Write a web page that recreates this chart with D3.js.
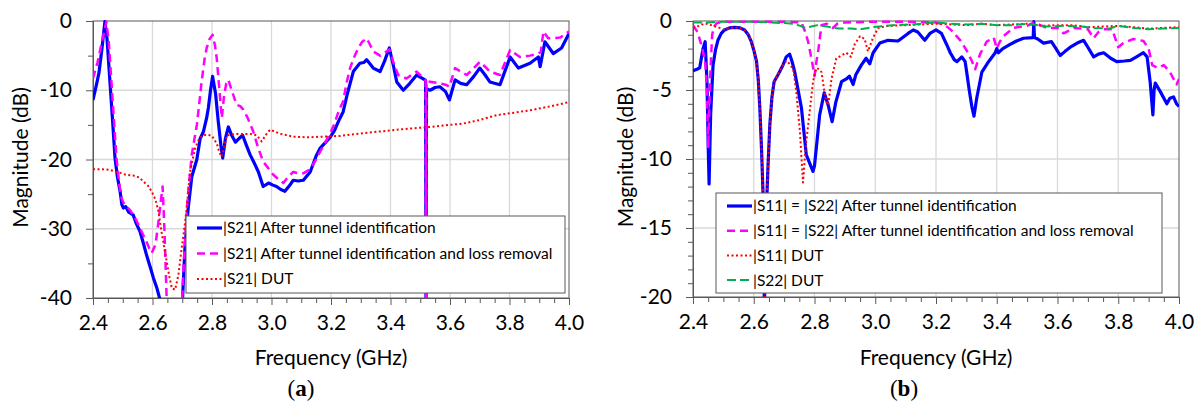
<!DOCTYPE html>
<html lang="en">
<head>
<meta charset="UTF-8">
<title>Magnitude vs Frequency</title>
<script src="https://d3js.org/d3.v7.min.js"></script>
<style>
  body { margin: 0; background: #fff; }
  svg text { font-family: Lato, "Open Sans", sans-serif; fill: #000; }
</style>
</head>
<body>
<script>
// ---- data (frequency GHz, magnitude dB) ----
const freqTicks = [2.4, 2.6, 2.8, 3.0, 3.2, 3.4, 3.6, 3.8, 4.0];

// (a) |S21|
const s21Tunnel = [[2.400,-11.4],[2.410,-9.5],[2.420,-7.5],[2.430,-4],[2.440,-0.1],[2.447,-2.5],[2.457,-8.8],[2.466,-14.5],[2.474,-19.8],[2.482,-22.5],[2.491,-24.6],[2.497,-26.5],[2.502,-27.0],[2.510,-26.8],[2.520,-27.6],[2.535,-28.0],[2.546,-29.3],[2.558,-30.4],[2.570,-32.2],[2.580,-33.8],[2.592,-35.5],[2.603,-37.1],[2.615,-38.6],[2.625,-40.2],[2.640,-43],[2.680,-43],[2.700,-41],[2.709,-32.8],[2.720,-27],[2.732,-22.5],[2.749,-20],[2.760,-17],[2.771,-16],[2.782,-14],[2.788,-12.5],[2.795,-10],[2.802,-8.0],[2.812,-10.5],[2.821,-14.5],[2.830,-18],[2.836,-19.8],[2.845,-17],[2.855,-15.3],[2.866,-16.5],[2.879,-17.5],[2.890,-17],[2.903,-16.5],[2.916,-18],[2.928,-19.3],[2.942,-20.5],[2.956,-21.8],[2.972,-23.9],[2.990,-23.4],[3.005,-23.7],[3.017,-23.9],[3.030,-24.3],[3.045,-24.6],[3.060,-23.8],[3.073,-23.0],[3.090,-23.1],[3.107,-23.0],[3.130,-21.8],[3.150,-19.5],[3.163,-18.4],[3.180,-17.6],[3.197,-16.8],[3.212,-15.8],[3.225,-14.5],[3.241,-13.1],[3.255,-10.5],[3.275,-7.3],[3.297,-6.1],[3.310,-6.0],[3.320,-5.6],[3.342,-6.8],[3.365,-7.3],[3.380,-5.8],[3.396,-3.9],[3.410,-6.5],[3.421,-8.8],[3.443,-10.0],[3.465,-9.0],[3.488,-7.8],[3.516,-8.5],[3.518,-8.6],[3.5195,-45],[3.521,-9.8],[3.533,-10.0],[3.550,-9.6],[3.566,-9.5],[3.585,-10.2],[3.598,-11.4],[3.617,-8.5],[3.636,-9.0],[3.656,-9.2],[3.680,-8.0],[3.700,-6.8],[3.718,-7.8],[3.734,-8.8],[3.768,-9.2],[3.785,-7.2],[3.802,-5.2],[3.830,-6.8],[3.869,-6.1],[3.897,-5.2],[3.903,-6.6],[3.919,-3.0],[3.947,-4.7],[3.975,-3.9],[4.000,-1.8]];

const s21Loss = [[2.400,-8.3],[2.415,-6],[2.430,-3],[2.445,-0.1],[2.453,-3],[2.462,-8.8],[2.470,-14],[2.479,-19.8],[2.488,-23.5],[2.496,-25.6],[2.505,-26.5],[2.513,-26.8],[2.525,-27.3],[2.535,-28.0],[2.546,-28.8],[2.558,-29.9],[2.570,-31],[2.580,-31.9],[2.590,-32.9],[2.597,-33.5],[2.610,-32.3],[2.620,-29.0],[2.628,-26],[2.634,-23.9],[2.640,-30],[2.648,-40.5],[2.655,-45],[2.695,-45],[2.702,-38],[2.706,-34.2],[2.717,-26.1],[2.732,-19.3],[2.749,-15.0],[2.757,-12],[2.765,-8.8],[2.775,-5.5],[2.782,-3.9],[2.792,-2.6],[2.802,-2.0],[2.810,-3.5],[2.816,-5.4],[2.825,-10],[2.833,-14.0],[2.840,-11],[2.848,-9],[2.855,-8.5],[2.870,-10.5],[2.883,-12.1],[2.895,-12.3],[2.905,-12.8],[2.920,-14],[2.939,-16.0],[2.955,-18.3],[2.972,-20.3],[2.990,-21.3],[3.006,-22.2],[3.022,-22.8],[3.040,-23.4],[3.056,-22.5],[3.073,-21.8],[3.090,-22.0],[3.107,-22.0],[3.130,-21.4],[3.147,-20.2],[3.163,-18.9],[3.180,-17.6],[3.197,-16.2],[3.212,-14.8],[3.225,-13.1],[3.241,-11.6],[3.252,-9],[3.264,-6.8],[3.280,-5],[3.292,-3.9],[3.305,-3],[3.320,-2.5],[3.332,-3.5],[3.342,-4.4],[3.365,-5.0],[3.380,-4.6],[3.396,-4.1],[3.410,-6],[3.426,-7.8],[3.454,-8.3],[3.470,-7.8],[3.488,-7.3],[3.516,-8.5],[3.518,-8.6],[3.5195,-45],[3.521,-8.7],[3.538,-8.8],[3.566,-9.0],[3.585,-9.2],[3.598,-9.5],[3.617,-6.8],[3.636,-7.3],[3.656,-7.8],[3.680,-6.8],[3.700,-5.9],[3.718,-6.6],[3.734,-7.3],[3.768,-7.8],[3.785,-6],[3.802,-4.2],[3.835,-5.2],[3.869,-5.0],[3.897,-4.7],[3.905,-4.5],[3.914,-1.5],[3.930,-2.5],[3.970,-2.4],[4.000,-1.5]];

const s21Dut = [[2.400,-21.4],[2.430,-21.4],[2.457,-21.5],[2.490,-21.9],[2.510,-22.2],[2.535,-22.3],[2.555,-22.6],[2.570,-23.2],[2.585,-23.8],[2.597,-24.6],[2.610,-25.8],[2.620,-27.5],[2.630,-30.4],[2.640,-32.8],[2.648,-34.8],[2.657,-37],[2.665,-38.6],[2.676,-38.8],[2.687,-36.7],[2.698,-32.8],[2.707,-30],[2.715,-27.0],[2.726,-21.8],[2.743,-18.4],[2.757,-17],[2.771,-16.5],[2.785,-16.4],[2.800,-16.6],[2.816,-17.7],[2.825,-19],[2.833,-19.6],[2.842,-18],[2.850,-16.5],[2.883,-16.3],[2.928,-16.3],[2.950,-16.5],[2.967,-17.4],[2.980,-16.5],[2.995,-15.7],[3.030,-16.3],[3.073,-16.7],[3.120,-16.8],[3.170,-16.7],[3.230,-16.6],[3.310,-16.2],[3.421,-15.7],[3.533,-15.3],[3.645,-14.8],[3.700,-14.3],[3.757,-13.6],[3.869,-12.9],[3.940,-12.3],[4.000,-11.7]];

// (b) |S11| = |S22| and DUT reflections
const s11Tunnel = [[2.400,-3.6],[2.413,-3.5],[2.422,-3.4],[2.433,-2.0],[2.440,-1.5],[2.446,-4.4],[2.450,-9],[2.453,-11.8],[2.458,-6.8],[2.466,-3.2],[2.474,-2.1],[2.482,-1.4],[2.493,-0.9],[2.504,-0.65],[2.520,-0.5],[2.537,-0.46],[2.555,-0.5],[2.570,-0.65],[2.582,-1.0],[2.592,-1.5],[2.600,-2.1],[2.609,-2.9],[2.615,-4.3],[2.620,-6.3],[2.626,-9.5],[2.631,-12.8],[2.635,-21],[2.638,-17],[2.641,-14],[2.647,-10.5],[2.653,-7.5],[2.660,-5.5],[2.667,-4.4],[2.680,-3.9],[2.696,-3.2],[2.707,-2.6],[2.718,-2.4],[2.727,-3.0],[2.735,-3.7],[2.746,-5.0],[2.757,-6.3],[2.765,-8.0],[2.773,-9.7],[2.784,-10.3],[2.795,-10.9],[2.800,-10.5],[2.806,-9.2],[2.817,-6.8],[2.832,-5.2],[2.845,-6.1],[2.858,-7.3],[2.870,-5.9],[2.889,-4.4],[2.905,-4.2],[2.915,-4.0],[2.927,-4.6],[2.936,-3.9],[2.954,-3.2],[2.970,-2.7],[2.982,-3.1],[2.993,-2.3],[3.015,-1.6],[3.042,-1.4],[3.075,-1.45],[3.108,-0.9],[3.125,-0.65],[3.140,-0.8],[3.163,-1.4],[3.180,-0.9],[3.200,-0.65],[3.218,-0.9],[3.235,-1.7],[3.247,-2.3],[3.260,-2.8],[3.269,-2.95],[3.285,-2.6],[3.296,-2.95],[3.303,-4],[3.310,-5.1],[3.318,-6.2],[3.325,-6.9],[3.334,-5.6],[3.351,-3.7],[3.373,-2.95],[3.395,-2.3],[3.400,-2.0],[3.405,-2.3],[3.420,-2.0],[3.444,-1.7],[3.465,-1.45],[3.488,-1.25],[3.520,-1.2],[3.522,-0.05],[3.524,-1.2],[3.535,-1.3],[3.554,-1.6],[3.580,-1.5],[3.595,-2.0],[3.609,-2.5],[3.625,-2.2],[3.642,-1.9],[3.665,-1.6],[3.686,-1.4],[3.700,-1.9],[3.719,-2.6],[3.735,-2.4],[3.752,-2.3],[3.775,-2.7],[3.795,-2.95],[3.820,-2.9],[3.840,-2.85],[3.860,-2.6],[3.883,-2.3],[3.895,-2.6],[3.905,-4.4],[3.914,-6.8],[3.918,-5],[3.922,-4.5],[3.938,-5.1],[3.960,-6.0],[3.970,-5.6],[3.982,-5.5],[3.992,-6.0],[4.000,-6.2]];

const s11Loss = [[2.400,-0.3],[2.415,-0.8],[2.427,-1.7],[2.440,-2.9],[2.446,-5],[2.450,-9.2],[2.456,-4.4],[2.463,-1.0],[2.470,-0.4],[2.477,-0.17],[2.500,-0.05],[2.600,-0.05],[2.700,-0.05],[2.757,-0.1],[2.768,-0.7],[2.779,-1.5],[2.792,-2.95],[2.800,-4.0],[2.806,-3.0],[2.812,-2.2],[2.823,-0.3],[2.840,-0.2],[2.850,-0.35],[2.861,-0.5],[2.875,-0.2],[2.900,-0.1],[3.000,-0.05],[3.100,-0.05],[3.200,-0.1],[3.230,-0.3],[3.252,-0.7],[3.280,-1.4],[3.300,-2.1],[3.318,-2.9],[3.329,-3.5],[3.345,-2.4],[3.367,-1.5],[3.390,-1.2],[3.400,-2.0],[3.410,-1.5],[3.422,-1.1],[3.455,-0.5],[3.500,-0.35],[3.523,-0.1],[3.565,-0.5],[3.600,-0.5],[3.620,-0.9],[3.655,-0.5],[3.700,-0.6],[3.719,-1.25],[3.735,-0.8],[3.752,-0.6],[3.780,-0.6],[3.800,-1.9],[3.817,-1.6],[3.850,-1.3],[3.883,-1.45],[3.900,-2.0],[3.912,-3.2],[3.930,-3.4],[3.950,-3.2],[3.970,-3.7],[3.992,-4.6],[4.000,-4.2]];

const s11Dut = [[2.400,-0.5],[2.420,-0.35],[2.440,-0.17],[2.460,-0.3],[2.480,-0.45],[2.495,-0.55],[2.504,-0.65],[2.520,-0.5],[2.537,-0.46],[2.555,-0.5],[2.570,-0.65],[2.582,-1.0],[2.592,-1.5],[2.600,-2.1],[2.609,-2.9],[2.615,-4.3],[2.620,-6.3],[2.626,-9.5],[2.631,-12.8],[2.635,-21],[2.638,-17],[2.641,-14],[2.647,-10.5],[2.653,-7.5],[2.660,-5.5],[2.667,-4.4],[2.680,-3.9],[2.696,-3.2],[2.707,-2.9],[2.718,-3.1],[2.730,-3.5],[2.740,-5.1],[2.752,-8.0],[2.762,-11.7],[2.768,-10],[2.773,-8.7],[2.784,-6.6],[2.795,-4.4],[2.806,-3.4],[2.815,-3.5],[2.823,-3.7],[2.836,-5.6],[2.845,-6.1],[2.856,-4.2],[2.872,-2.7],[2.889,-2.5],[2.905,-2.3],[2.920,-2.6],[2.932,-1.7],[2.950,-1.1],[2.965,-1.3],[2.976,-2.2],[2.993,-1.2],[3.010,-0.5],[3.042,-0.35],[3.100,-0.3],[3.150,-0.25],[3.200,-0.2],[3.250,-0.25],[3.300,-0.3],[3.350,-0.2],[3.400,-0.3],[3.450,-0.25],[3.500,-0.2],[3.550,-0.35],[3.600,-0.3],[3.650,-0.3],[3.700,-0.45],[3.750,-0.4],[3.800,-0.35],[3.850,-0.45],[3.900,-0.55],[3.950,-0.5],[4.000,-0.45]];

const s22Dut = [[2.400,-0.1],[2.450,-0.1],[2.500,-0.05],[2.550,-0.05],[2.600,-0.05],[2.650,-0.1],[2.700,-0.15],[2.730,-0.2],[2.746,-0.3],[2.770,-0.5],[2.790,-0.4],[2.810,-0.3],[2.840,-0.4],[2.880,-0.55],[2.920,-0.55],[2.950,-0.6],[2.990,-0.45],[3.060,-0.3],[3.120,-0.25],[3.200,-0.1],[3.250,-0.2],[3.300,-0.25],[3.350,-0.2],[3.400,-0.3],[3.450,-0.3],[3.500,-0.2],[3.565,-0.4],[3.620,-0.35],[3.680,-0.4],[3.720,-0.5],[3.770,-0.55],[3.800,-0.35],[3.850,-0.5],[3.900,-0.6],[3.950,-0.55],[4.000,-0.5]];

const legendA = ["|S21| After tunnel identification", "|S21| After tunnel identification and loss removal", "|S21| DUT"];
const legendB = ["|S11| = |S22| After tunnel identification", "|S11| = |S22| After tunnel identification and loss removal", "|S11| DUT", "|S22| DUT"];

// ---- styles ----
const styleTunnel = { color: "#0000ff", width: 3.2, dash: null };
const styleLoss   = { color: "#ff00ff", width: 2.5, dash: "8,5" };
const styleDut11  = { color: "#ff0000", width: 2, dash: "2,2.5" };
const styleDut22  = { color: "#00b050", width: 2, dash: "9,4" };

const W = 1200, H = 408;
const svg = d3.select("body").append("svg").attr("width", W).attr("height", H);

const panels = [
  { key: "a", left: 93, right: 569, top: 21, bottom: 298,
    yMin: -40, yStep: 10, yMinor: 5,
    series: [[s21Tunnel, styleTunnel], [s21Loss, styleLoss], [s21Dut, styleDut11]],
    legend: legendA, legBox: [186, 216, 379, 77], legRow0: 228, legRowStep: 25.5,
    labelX: 21, captionX: 301 },
  { key: "b", left: 693, right: 1179, top: 21, bottom: 297,
    yMin: -20, yStep: 5, yMinor: 1,
    series: [[s11Tunnel, styleTunnel], [s11Loss, styleLoss], [s11Dut, styleDut11], [s22Dut, styleDut22]],
    legend: legendB, legBox: [716, 193, 446, 100], legRow0: 206, legRowStep: 24.7,
    labelX: 626, captionX: 904 }
];

panels.forEach(p => {
  const x = d3.scaleLinear().domain([2.4, 4.0]).range([p.left, p.right]);
  const y = d3.scaleLinear().domain([p.yMin, 0]).range([p.bottom, p.top]);
  const g = svg.append("g");
  const yMajor = d3.range(p.yMin, 0.001, p.yStep);
  const yMinorT = d3.range(p.yMin, 0.001, p.yMinor).filter(v => Math.abs(v % p.yStep) > 1e-6);
  const xMinorT = d3.range(2.4, 4.001, 0.05).filter(v => Math.abs(Math.round(v * 5) - v * 5) > 1e-6);

  // grid
  g.append("g").selectAll("line").data(freqTicks.slice(1, -1)).join("line")
    .attr("x1", d => x(d)).attr("x2", d => x(d)).attr("y1", p.top).attr("y2", p.bottom)
    .attr("stroke", "#d9d9d9").attr("stroke-width", 1.3);
  g.append("g").selectAll("line").data(yMajor.slice(1, -1)).join("line")
    .attr("x1", p.left).attr("x2", p.right).attr("y1", d => y(d)).attr("y2", d => y(d))
    .attr("stroke", "#d9d9d9").attr("stroke-width", 1.3);

  // axes with minor ticks
  const xAxis = g.append("g").attr("transform", `translate(0,${p.bottom})`)
    .call(d3.axisBottom(x).tickValues(freqTicks).tickFormat(d3.format(".1f")).tickSize(7).tickPadding(7));
  g.append("g").attr("transform", `translate(0,${p.bottom})`)
    .call(d3.axisBottom(x).tickValues(xMinorT).tickFormat("").tickSize(5))
    .call(a => a.select(".domain").remove());
  g.append("g").attr("transform", `translate(${p.left},0)`)
    .call(d3.axisLeft(y).tickValues(yMajor).tickFormat(d => String(d)).tickSize(7).tickPadding(14));
  g.append("g").attr("transform", `translate(${p.left},0)`)
    .call(d3.axisLeft(y).tickValues(yMinorT).tickFormat("").tickSize(5))
    .call(a => a.select(".domain").remove());
  g.selectAll(".tick line, .domain").attr("stroke", "#595959");
  g.selectAll(".tick text").style("font-size", "21px").style("font-family", "Lato, sans-serif");
  xAxis.selectAll(".tick text").attr("dy", "0.85em");

  // frame
  g.append("rect").attr("x", p.left).attr("y", p.top)
    .attr("width", p.right - p.left).attr("height", p.bottom - p.top)
    .attr("fill", "none").attr("stroke", "#595959").attr("stroke-width", 1);

  // series
  svg.append("clipPath").attr("id", "clip-" + p.key).append("rect")
    .attr("x", p.left).attr("y", p.top - 3).attr("width", p.right - p.left).attr("height", p.bottom - p.top + 3);
  const line = d3.line().x(d => x(d[0])).y(d => y(d[1]));
  const lines = g.append("g").attr("clip-path", `url(#clip-${p.key})`);
  p.series.forEach(([data, st]) => {
    lines.append("path").datum(data).attr("d", line)
      .attr("fill", "none").attr("stroke", st.color).attr("stroke-width", st.width)
      .attr("stroke-dasharray", st.dash).attr("stroke-linejoin", "round");
  });

  // legend
  const [lx, ly, lw, lh] = p.legBox;
  const leg = g.append("g");
  leg.append("rect").attr("x", lx).attr("y", ly).attr("width", lw).attr("height", lh)
    .attr("fill", "#fff").attr("stroke", "#595959").attr("stroke-width", 1);
  p.legend.forEach((label, i) => {
    const st = p.series[i][1];
    const ry = p.legRow0 + i * p.legRowStep;
    leg.append("line").attr("x1", lx + 11).attr("x2", lx + 36).attr("y1", ry).attr("y2", ry)
      .attr("stroke", st.color).attr("stroke-width", st.width).attr("stroke-dasharray", st.dash);
    leg.append("text").attr("x", lx + 37).attr("y", ry).attr("dy", "0.35em")
      .style("font-size", "15.5px").text(label);
  });

  // axis titles
  g.append("text").attr("x", (p.left + p.right) / 2).attr("y", 365)
    .attr("text-anchor", "middle").style("font-size", "21px").text("Frequency (GHz)");
  g.append("text").attr("transform", `translate(${p.labelX},${(p.top + p.bottom) / 2 - 2}) rotate(-90)`)
    .attr("text-anchor", "middle").attr("dy", "0.35em").style("font-size", "21px").text("Magnitude (dB)");

  // caption
  const cap = g.append("text").attr("x", p.captionX).attr("y", 396).attr("text-anchor", "middle")
    .style("font-family", "'Liberation Serif', serif").style("font-size", "23px");
  cap.append("tspan").text("(");
  cap.append("tspan").style("font-weight", "bold").text(p.key);
  cap.append("tspan").text(")");
});
</script>
</body>
</html>
